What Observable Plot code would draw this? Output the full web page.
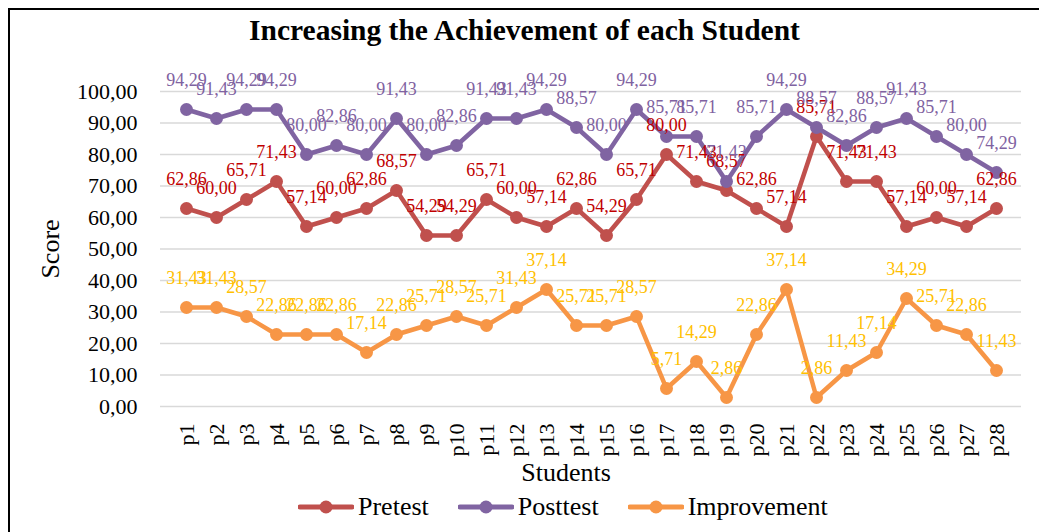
<!DOCTYPE html>
<html>
<head>
<meta charset="utf-8">
<script src="https://cdn.jsdelivr.net/npm/d3@7"></script>
<script src="https://cdn.jsdelivr.net/npm/@observablehq/plot@0.6"></script>
<style>
  html, body { margin: 0; padding: 0; background: #fff; overflow: hidden; }
  #wrap { position: relative; width: 1039px; height: 532px; font-family: "Liberation Serif", "Times New Roman", serif; }
  #frame { position: absolute; left: 8px; top: 8px; width: 1100px; height: 600px; border-top: 2px solid #000; border-left: 2px solid #000; box-sizing: border-box; pointer-events: none; }
  #title { position: relative; height: 60px; line-height: 60px; text-align: center; font-weight: bold; font-size: 29.5px; color: #000; padding-left: 10px; }
  #chart svg { display: block; }
  #legend { position: relative; height: 42px; display: flex; align-items: center; padding-left: 298px; font-size: 26px; color: #000; }
  .item { display: flex; align-items: center; margin-right: 29px; }
  .item span { margin-left: 4px; }
</style>
</head>
<body>
<div id="wrap">
  <div id="frame"></div>
  <div id="title">Increasing the Achievement of each Student</div>
  <div id="chart"></div>
  <div id="legend"></div>
</div>
<script>
const students = ["p1","p2","p3","p4","p5","p6","p7","p8","p9","p10","p11","p12","p13","p14","p15","p16","p17","p18","p19","p20","p21","p22","p23","p24","p25","p26","p27","p28"];
const pretest = [62.86,60.00,65.71,71.43,57.14,60.00,62.86,68.57,54.29,54.29,65.71,60.00,57.14,62.86,54.29,65.71,80.00,71.43,68.57,62.86,57.14,85.71,71.43,71.43,57.14,60.00,57.14,62.86];
const posttest = [94.29,91.43,94.29,94.29,80.00,82.86,80.00,91.43,80.00,82.86,91.43,91.43,94.29,88.57,80.00,94.29,85.71,85.71,71.43,85.71,94.29,88.57,82.86,88.57,91.43,85.71,80.00,74.29];
const improvement = [31.43,31.43,28.57,22.86,22.86,22.86,17.14,22.86,25.71,28.57,25.71,31.43,37.14,25.71,25.71,28.57,5.71,14.29,2.86,22.86,37.14,2.86,11.43,17.14,34.29,25.71,22.86,11.43];
const yTicks = [0,10,20,30,40,50,60,70,80,90,100];

const seriesNames = ["Pretest","Posttest","Improvement"];
const seriesValues = [pretest, posttest, improvement];
const lineColors = ["#C0504D","#8064A2","#F79646"];
const labelColors = ["#C00000","#7F62A1","#FFC000"];

const fmt = v => v.toFixed(2).replace(".", ",");

const marks = [
  Plot.gridY(yTicks, {stroke: "#D9D9D9", strokeOpacity: 1, strokeWidth: 1.5}),
  Plot.axisY(yTicks, {tickSize: 0, tickPadding: 23, tickFormat: fmt, fontSize: 22, label: null}),
  Plot.axisX({tickSize: 0, tickPadding: 17, tickRotate: -90, fontSize: 22, label: null})
];
seriesNames.forEach((name, i) => {
  const rows = students.map((s, j) => ({student: s, value: seriesValues[i][j]}));
  marks.push(Plot.line(rows, {x: "student", y: "value", stroke: lineColors[i], strokeWidth: 4.5}));
  marks.push(Plot.dot(rows, {x: "student", y: "value", fill: lineColors[i], r: 6.5}));
});
seriesNames.forEach((name, i) => {
  const rows = students.map((s, j) => ({student: s, value: seriesValues[i][j]}));
  marks.push(Plot.text(rows, {x: "student", y: "value", text: d => fmt(d.value), fill: labelColors[i], dy: -29, fontSize: 18}));
});
marks.push(Plot.text(["Score"], {frameAnchor: "left", textAnchor: "middle", lineAnchor: "middle", dx: -110, rotate: -90, fontSize: 26, fill: "#000"}));
marks.push(Plot.text(["Students"], {frameAnchor: "bottom", textAnchor: "middle", lineAnchor: "middle", dx: -25, dy: 66, fontSize: 26, fill: "#000"}));

const chart = Plot.plot({
  width: 1039,
  height: 426,
  marginLeft: 160,
  marginRight: 18,
  marginTop: 31,
  marginBottom: 80,
  style: {fontFamily: "'Liberation Serif', 'Times New Roman', serif", color: "#000", background: "transparent", overflow: "visible"},
  x: {type: "point", domain: students, padding: 0.5},
  y: {domain: [0, 100]},
  marks
});
document.getElementById("chart").appendChild(chart);

const legend = document.getElementById("legend");
seriesNames.forEach((name, i) => {
  const item = document.createElement("div");
  item.className = "item";
  item.innerHTML = `<svg width="56" height="20"><line x1="2" y1="10" x2="54" y2="10" stroke="${lineColors[i]}" stroke-width="5" stroke-linecap="round"/><circle cx="28" cy="10" r="6.5" fill="${lineColors[i]}"/></svg><span>${name}</span>`;
  legend.appendChild(item);
});
</script>
</body>
</html>
